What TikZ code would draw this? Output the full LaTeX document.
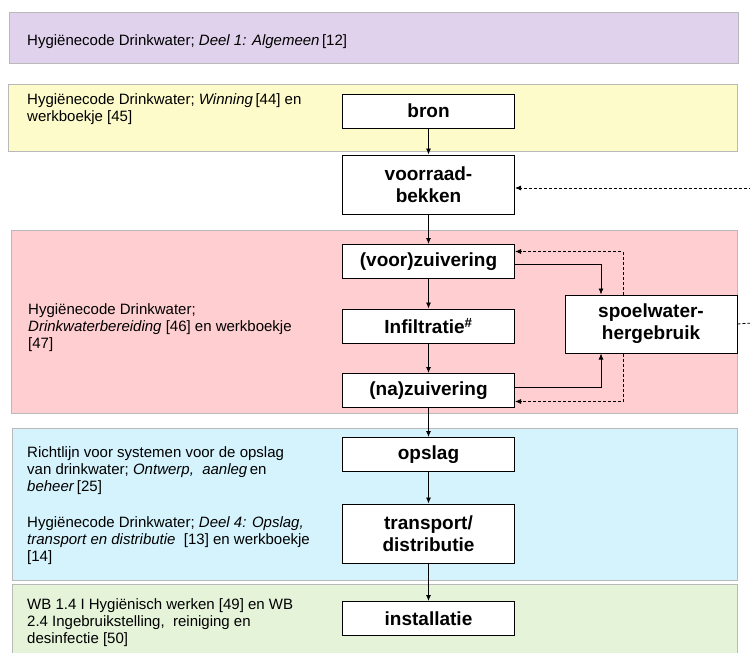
\documentclass[tikz,border=0pt]{standalone}
\usepackage{fontspec}
\setmainfont{Liberation Sans}
\usetikzlibrary{arrows.meta,calc}
\definecolor{AlgClr}{RGB}{224,210,236}
\definecolor{WinClr}{RGB}{253,251,202}
\definecolor{BerClr}{RGB}{255,206,209}
\definecolor{OpsClr}{RGB}{212,243,253}
\definecolor{InsClr}{RGB}{229,243,216}
\definecolor{BandLine}{RGB}{185,185,185}

\begin{document}
\begin{tikzpicture}[x=1pt,y=-1pt,>={Latex[length=6pt,width=5pt]},
  band/.style={draw=BandLine,line width=.7pt},
  stap/.style={draw,line width=1pt,fill=white,minimum width=172pt,minimum height=34pt,
    align=center,font=\bfseries\fontsize{19}{22}\selectfont},
  ref/.style={anchor=north west,inner sep=0pt,align=left,font=\fontsize{15}{17.3}\selectfont},
  flow/.style={->,line width=.8pt},
  terug/.style={line width=.8pt,dash pattern=on 3pt off 2pt}]
\clip (0,0) rectangle (750,653);
\fill[white] (0,0) rectangle (750,653);

% banden
\filldraw[band,fill=AlgClr] (9,12) rectangle (738,63);
\filldraw[band,fill=WinClr] (8,84) rectangle (737,151);
\filldraw[band,fill=BerClr] (11,230) rectangle (737,413);
\filldraw[band,fill=OpsClr] (12,428) rectangle (737,580);
\filldraw[band,fill=InsClr] (12,584) rectangle (737,665);

\node[ref] (tAlg) at (27,34) {Hygiënecode Drinkwater; \textit{Deel 1: Algemeen}\,[12]};
\node[ref] (tWin) at (27,93) {Hygiënecode Drinkwater; \textit{Winning}\,[44] en\\werkboekje [45]};
\node[ref] (tBer) at (28,303) {Hygiënecode Drinkwater;\\\textit{Drinkwaterbereiding} [46] en werkboekje\\{[47]}};
\node[ref] (tOps1) at (27,446) {Richtlijn voor systemen voor de opslag\\van drinkwater; \textit{Ontwerp,\ \ aanleg}\,en\\\textit{beheer}\,[25]};
\node[ref] (tOps2) at (27,516) {Hygiënecode Drinkwater; \textit{Deel 4: Opslag,}\\\textit{transport en distributie}\ \ [13] en werkboekje\\{[14]}};
\node[ref] (tIns) at (27,598) {WB 1.4 I Hygiënisch werken [49] en WB\\2.4 Ingebruikstelling,\ \ reiniging en\\desinfectie [50]};

% stappen
\node[stap] (bron) at (428.5,111) {bron};
\node[stap,minimum height=59pt] (bekken) at (428.5,184.5) {voorraad-\\bekken};
\node[stap] (voorz) at (428.5,261.5) {(voor)zuivering};
\node[stap] (infil) at (428.5,326) {Infiltratie\textsuperscript{\#}};
\node[stap] (naz) at (428.5,390.5) {(na)zuivering};
\node[stap,minimum height=58pt] (spoel) at (651,324) {spoelwater-\\hergebruik};
\node[stap] (opslag) at (428.5,454.5) {opslag};
\node[stap,minimum height=59pt] (transp) at (428.5,533.5) {transport/\\distributie};
\node[stap] (install) at (428.5,618.5) {installatie};

\coordinate (inR) at (752,188);
\coordinate (uitR) at (752,323);

\draw[flow] (bron) -- (bekken);
\draw[flow] (bekken) -- (voorz);
\draw[flow] (voorz) -- (infil);
\draw[flow] (infil) -- (naz);
\draw[flow] (naz) -- (opslag);
\draw[flow] (opslag) -- (transp);
\draw[flow] (transp) -- (install);

\draw[flow] ([yshift=-3pt]voorz.east) -| ([xshift=-50pt]spoel.north);
\draw[flow] ([yshift=3pt]naz.east) -| ([xshift=-50pt]spoel.south);
\draw[terug,->] ([xshift=-28pt]spoel.north) |- ([yshift=10pt]voorz.east);
\draw[terug,->] ([xshift=-28pt]spoel.south) |- ([yshift=-11pt]naz.east);
\draw[terug] (spoel.east) -- (uitR);
\draw[terug,->] (inR) -- (bekken.east |- inR);

\end{tikzpicture}
\end{document}
